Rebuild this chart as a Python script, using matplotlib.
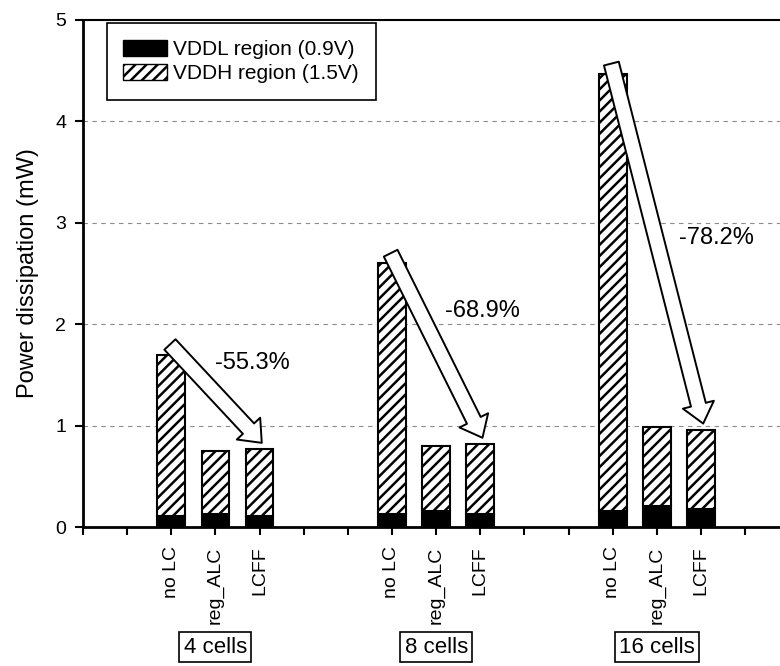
import matplotlib
matplotlib.use("Agg")
import matplotlib.pyplot as plt
from matplotlib.patches import Patch

plt.rcParams['font.family'] = ['Liberation Sans', 'DejaVu Sans']
plt.rcParams['hatch.linewidth'] = 1.8

# data (mW)
groups = ['4 cells', '8 cells', '16 cells']
schemes = ['no LC', 'reg_ALC', 'LCFF']
vddl = [[0.11, 0.13, 0.11],
        [0.13, 0.16, 0.13],
        [0.16, 0.21, 0.18]]
total = [[1.70, 0.75, 0.77],
         [2.60, 0.80, 0.82],
         [4.47, 0.99, 0.96]]
reductions = ['-55.3%', '-68.9%', '-78.2%']

# layout: category slots on the x axis
group_start = [2, 7, 12]
n_slots = 16
label_xy = [(3.83, 1.62), (9.04, 2.13), (14.34, 2.85)]

fig = plt.figure(figsize=(7.8, 6.66), dpi=100)
ax = fig.add_axes([0.1064, 0.2087, 0.8936, 0.7613])

width = 0.63
for g in range(len(groups)):
    xs = [group_start[g] + i for i in range(3)]
    low = vddl[g]
    high = [t - l for t, l in zip(total[g], low)]
    ax.bar(xs, low, width, color='black', edgecolor='black', lw=1.5, zorder=3)
    ax.bar(xs, high, width, bottom=low, color='white', edgecolor='black',
           hatch='///', lw=1.5, zorder=3)

    # big hollow arrow from no LC to LCFF
    ax.annotate('', xy=(xs[2] + 0.05, total[g][2] + 0.06),
                xytext=(xs[0] - 0.03, total[g][0] + 0.1),
                arrowprops=dict(arrowstyle='simple,head_length=1.4,head_width=2.3,tail_width=1.1',
                                mutation_scale=10, fc='white', ec='black', lw=1.4,
                                shrinkA=0, shrinkB=0),
                zorder=4)
    ax.text(label_xy[g][0], label_xy[g][1], reductions[g], fontsize=17,
            ha='center', va='center', zorder=5)

    # group label box under the category labels
    ax.text(xs[1], -1.185, groups[g], fontsize=16, ha='center', va='center',
            bbox=dict(boxstyle='square,pad=0.2', fc='white', ec='black', lw=1.2),
            clip_on=False)

ax.set_xlim(0, 15.79)
ax.set_ylim(0, 5)
ax.set_yticks(range(6))
ax.set_xticks(range(n_slots))
xlabels = [''] * n_slots
for g in range(len(groups)):
    for i, s in enumerate(schemes):
        xlabels[group_start[g] + i] = s
ax.set_xticklabels(xlabels, rotation=90, fontsize=14)
ax.tick_params(axis='x', direction='out', length=6, width=1.5, pad=8)
ax.tick_params(axis='y', direction='out', length=6, width=1.5, labelsize=14, pad=6)

for y in range(1, 5):
    ax.axhline(y, color='0.55', lw=0.8, ls=(0, (4, 4)), zorder=1)

ax.spines['right'].set_visible(False)
ax.spines['left'].set_linewidth(2)
ax.spines['bottom'].set_linewidth(2)
ax.spines['top'].set_linewidth(1.5)

ax.set_ylabel('Power dissipation (mW)', fontsize=17, labelpad=12)

handles = [Patch(facecolor='black', edgecolor='black', label='VDDL region (0.9V)'),
           Patch(facecolor='white', edgecolor='black', hatch='///', label='VDDH region (1.5V)')]
leg = ax.legend(handles=handles, loc='upper left', bbox_to_anchor=(0.034, 0.994),
                borderaxespad=0, fontsize=15, fancybox=False, edgecolor='black',
                framealpha=1, handlelength=2.1, handleheight=0.8, borderpad=0.8,
                labelspacing=0.25, handletextpad=0.3)
leg.get_frame().set_linewidth(1.2)

fig.savefig('out.png', dpi=100)
